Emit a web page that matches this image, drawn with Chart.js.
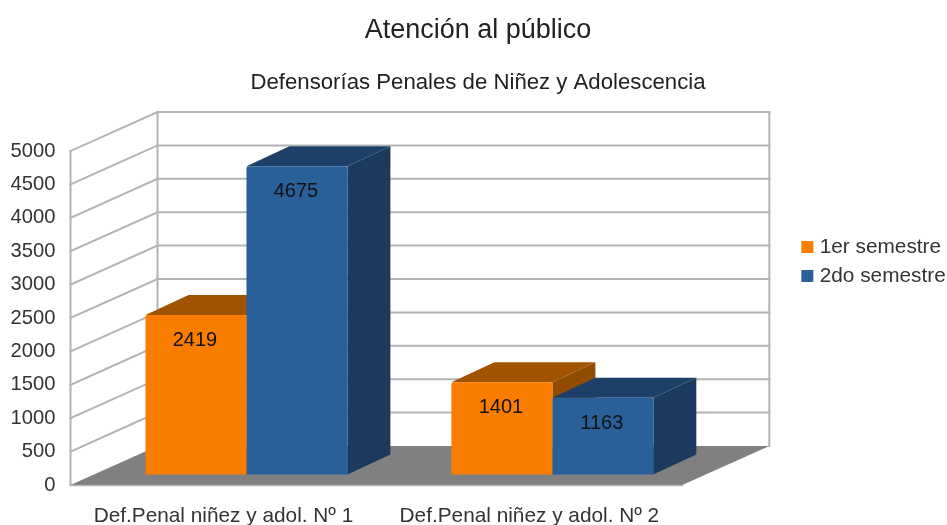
<!DOCTYPE html>
<html><head><meta charset="utf-8">
<script src="https://cdn.jsdelivr.net/npm/chart.js@4"></script>
<style>html,body{margin:0;padding:0;background:#fff;overflow:hidden}#w{width:947px;height:525px}canvas{filter:blur(0.4px)}</style>
</head><body><div id="w"><canvas id="c"></canvas></div>
<script>
const categories = ["Def.Penal niñez y adol. Nº 1", "Def.Penal niñez y adol. Nº 2"];
const semestre1 = [2419, 1401];
const semestre2 = [4675, 1163];
const seriesNames = ["1er semestre", "2do semestre"];
const titleText = "Atención al público";
const subtitleText = "Defensorías Penales de Niñez y Adolescencia";

const FONT = "'Liberation Sans', Arial, sans-serif";
const wallD = {x: 87, y: -39};
const barOff = {x: 23, y: -10.5};
const barD = {x: 43, y: -20};
const yShrink = 0.987;
const face = [
  {front:'#fb7d00', top:'#a05400', side:'#924c00'},
  {front:'#2a6099', top:'#1d4068', side:'#1b3a5e'}
];

function bx(x){return x + barOff.x;}
function by(y, base){return base + (y - base) * yShrink + barOff.y;}

const threeD = {
  id:'threeD',
  afterLayout(chart){
    const lg = chart.legend;
    lg.top -= 1; lg.bottom -= 1;
  },
  beforeDatasetsDraw(chart){
    const {ctx, chartArea:a, scales:{y}} = chart;
    const z0 = y.getPixelForValue(0);
    ctx.save();
    ctx.strokeStyle = '#b3b3b3';
    ctx.lineWidth = 2;
    ctx.lineCap = 'square';
    y.ticks.forEach(t=>{
      const p = y.getPixelForValue(t.value);
      if(t.value === 0) return;
      ctx.beginPath();
      ctx.moveTo(a.left, p);
      ctx.lineTo(a.left + wallD.x, p + wallD.y);
      ctx.lineTo(a.right + wallD.x, p + wallD.y);
      ctx.stroke();
    });
    ctx.beginPath();
    ctx.moveTo(a.left, a.top); ctx.lineTo(a.left, z0);
    ctx.moveTo(a.left + wallD.x, a.top + wallD.y); ctx.lineTo(a.left + wallD.x, z0 + wallD.y);
    ctx.moveTo(a.right + wallD.x, a.top + wallD.y); ctx.lineTo(a.right + wallD.x, z0 + wallD.y);
    ctx.stroke();
    ctx.fillStyle = '#808080';
    ctx.beginPath();
    ctx.moveTo(a.left, z0);
    ctx.lineTo(a.left + wallD.x, z0 + wallD.y);
    ctx.lineTo(a.right + wallD.x, z0 + wallD.y);
    ctx.lineTo(a.right, z0);
    ctx.closePath(); ctx.fill();
    ctx.lineWidth = 1.5;
    ctx.beginPath(); ctx.moveTo(a.left, z0 + 0.5); ctx.lineTo(a.right, z0 + 0.5); ctx.stroke();
    chart.data.datasets.forEach((ds, i)=>{
      chart.getDatasetMeta(i).data.forEach(el=>{
        const l = bx(el.x - el.width/2), r = bx(el.x + el.width/2);
        const t = by(el.y, el.base), b = by(el.base, el.base);
        ctx.fillStyle = face[i].side;
        ctx.beginPath();
        ctx.moveTo(r, t); ctx.lineTo(r + barD.x, t + barD.y);
        ctx.lineTo(r + barD.x, b + barD.y); ctx.lineTo(r, b);
        ctx.closePath(); ctx.fill();
        ctx.fillStyle = face[i].top;
        ctx.beginPath();
        ctx.moveTo(l, t); ctx.lineTo(l + barD.x, t + barD.y);
        ctx.lineTo(r + barD.x, t + barD.y); ctx.lineTo(r, t);
        ctx.closePath(); ctx.fill();
      });
    });
    ctx.restore();
    ctx.save();
    ctx.transform(1, 0, 0, yShrink, barOff.x, z0 * (1 - yShrink) + barOff.y);
  },
  afterDatasetsDraw(chart){
    const {ctx} = chart;
    ctx.restore();
    ctx.save();
    ctx.fillStyle = '#111';
    ctx.font = "20px " + FONT;
    ctx.textAlign = 'center';
    ctx.textBaseline = 'middle';
    chart.data.datasets.forEach((ds, i)=>{
      chart.getDatasetMeta(i).data.forEach((el, j)=>{
        ctx.fillText(String(ds.data[j]), bx(el.x) - 1, by(el.y, el.base) + 25.5);
      });
    });
    ctx.restore();
  },
  afterDraw(chart){
    const {ctx, legend} = chart;
    legend.legendHitBoxes.forEach((h, i)=>{
      ctx.fillStyle = face[i].front;
      ctx.fillRect(legend.left + 8 + 8 - 0.5, h.top + (h.height - 12)/2, 4.5, 12);
    });
  }
};

new Chart(document.getElementById('c'), {
  type:'bar',
  plugins:[threeD],
  data:{
    labels:categories,
    datasets:[
      {label:seriesNames[0], data:semestre1, backgroundColor:face[0].front, borderWidth:0, borderRadius:2, clip:false, categoryPercentage:0.66, barPercentage:1},
      {label:seriesNames[1], data:semestre2, backgroundColor:face[1].front, borderWidth:0, borderRadius:2, clip:false, categoryPercentage:0.66, barPercentage:1}
    ]
  },
  options:{
    responsive:true, maintainAspectRatio:false, animation:false,
    layout:{padding:{left:5,right:-4,top:0,bottom:0}},
    plugins:{
      title:{display:true, text:titleText, color:'#222', font:{family:FONT,size:27,weight:'normal'}, padding:{top:14,bottom:23}},
      subtitle:{display:true, text:subtitleText, color:'#222', font:{family:FONT,size:22.2,weight:'normal'}, padding:{top:0,bottom:55}},
      legend:{position:'right', labels:{color:'#333', boxWidth:8, boxHeight:12, padding:8, font:{family:FONT,size:20.8}}},
      tooltip:{enabled:false}
    },
    scales:{
      x:{
        grid:{display:false}, border:{display:false},
        ticks:{color:'#333', font:{family:FONT,size:20.8}, padding:11, maxRotation:0, autoSkip:false},
        afterFit(s){s.height = 40;}
      },
      y:{
        min:0, max:5000,
        grid:{display:false}, border:{display:false},
        ticks:{stepSize:500, color:'#333', font:{family:FONT,size:20.2}, padding:7, callback:v=>String(v)},
        afterFit(s){s.width = 65.5;}
      },
      gap:{
        position:'right', display:true,
        grid:{display:false}, border:{display:false},
        ticks:{display:false},
        afterFit(s){s.width = 111;}
      }
    }
  }
});
</script></body></html>
